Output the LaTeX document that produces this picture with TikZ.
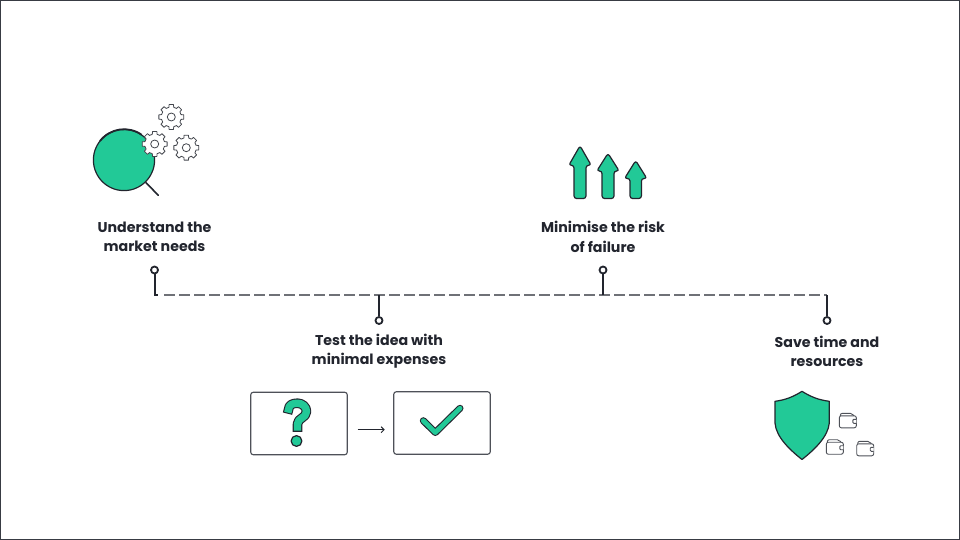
\documentclass[tikz,border=0pt]{standalone}
\usepackage{fontspec}
\setmainfont{Poppins}
\usetikzlibrary{arrows.meta}
\definecolor{ink}{HTML}{22252E}
\definecolor{mint}{HTML}{22C997}
\tikzset{
  x=1pt,y=-1pt,
  label/.style={font=\fontsize{14.2}{19.5}\selectfont\bfseries,text=ink,align=center,inner sep=0pt},
  dot/.style={circle,draw=ink,line width=1.8pt,fill=white,minimum size=7pt,inner sep=0pt},
  stem/.style={draw=ink,line width=2pt,line join=miter},
  dashline/.style={draw=ink!65,line width=1.4pt,dash pattern=on 11pt off 4pt,shorten <=9.5pt},
  outline/.style={draw=ink,fill=mint,line width=1.2pt,line join=round},
  frame/.style={draw=ink!80,line width=1.1pt,rounded corners=2.5pt,fill=white,minimum width=96.5pt,minimum height=62.5pt,inner sep=0pt},
  thin line/.style={draw=ink,line width=0.9pt},
}
\newcommand{\gearshape}[2]{%
  \begin{scope}[shift={(#1,#2)}]
  \draw[ink!85,line width=0.8pt,fill=white,line join=round]
    (-14:10) foreach \a in {0,45,...,315}{
      -- ({\a-14}:10) -- ({\a-10}:12.6) -- ({\a+10}:12.6) -- ({\a+14}:10)
      arc[start angle=\a+14,end angle=\a+31,radius=10] } -- cycle;
  \draw[ink!85,line width=0.8pt] (0,0) circle[radius=4];
  \end{scope}}
\newcommand{\walletat}[2]{%
  \begin{scope}[shift={(#1,#2)}]
  \draw[ink!80,line width=0.9pt,rounded corners=2pt,fill=white]
    (0,2.5) rectangle (17,14.5);
  \draw[ink!80,line width=0.9pt,rounded corners=2pt] (1,2.5) -- (1,0) -- (13,0) -- (14.5,2.5);
  \draw[ink!80,line width=0.9pt,rounded corners=1pt,fill=white] (17,6) -- (13.5,6) -- (13.5,10) -- (17,10);
  \end{scope}}
\newcommand{\uparrowshape}[5]{% centre x, tip y, base y of head, half shaft, bottom
  \draw[outline,rounded corners=2.6pt]
    ({#1-#4},#5) -- ({#1-#4},#3) -- ({#1-11.2},#3) -- (#1,#2) -- ({#1+11.2},#3) -- ({#1+#4},#3) -- ({#1+#4},#5) -- cycle;}
\begin{document}
\begin{tikzpicture}
\useasboundingbox (0,0) rectangle (960,540);
\fill[white] (0,0) rectangle (960,540);
\draw[ink!90,line width=1.6pt] (0.5,0.5) rectangle (959.5,539.5);

% timeline
\coordinate (j1) at (154.5,295);
\coordinate (j1b) at (158,295);
\coordinate (j2) at (379,295);
\coordinate (j3) at (603,295);
\coordinate (j4) at (827,295);
\node[dot] (d1) at (154.5,270) {};
\node[dot] (d2) at (379,320.5) {};
\node[dot] (d3) at (603,270) {};
\node[dot] (d4) at (827,320.5) {};
\draw[dashline] (j1) -- (j4);
\draw[stem] (d1) |- (j1b);
\draw[stem] (d2) -- (j2);
\draw[stem] (d3) -- (j3);
\draw[stem] (d4) -- (j4);

% labels
\node[label] (t1) at (154.5,236.8) {Understand the\\market needs};
\node[label] (t2) at (379,351.3) {Test the idea with\\minimal expenses};
\node[label] (t3) at (603,236.8) {Minimise the risk\\of failure};
\node[label] (t4) at (827,351.3) {Save time and\\resources};

% magnifier and gears
\draw[ink,line width=1.6pt,line cap=round] (146,182.7) -- (158.3,195.3);
\draw[outline] (124,160) circle[radius=30.6];
\draw[ink,line width=1.8pt] (100,141) arc[start angle=218,end angle=305,radius=30.6];
\gearshape{171.3}{117}
\gearshape{154.7}{144}
\gearshape{186.3}{147.7}

% arrows
\uparrowshape{580}{145.8}{165.3}{6}{198.5}
\uparrowshape{608}{153.3}{171}{6}{198.5}
\uparrowshape{635.7}{160.6}{178.5}{5.7}{198.5}

% boxes
\node[frame] (b1) at (299,423.5) {};
\node[frame] (b2) at (442,423) {};
\coordinate (a1) at (347.5,429.7);
\coordinate (a2) at (393.7,429.7);
\draw[thin line,-{Straight Barb[length=3pt,width=6pt]},shorten <=10pt,shorten >=9pt] (a1) -- (a2);

% question mark
\draw[ink,line width=9.6pt,line cap=rect,line join=round]
  (288.7,409) .. controls (288.7,405) and (292.5,403.2) .. (297.5,403.2)
  .. controls (302.5,403.2) and (306.5,407) .. (306.5,411.5)
  .. controls (306.5,418) and (297.5,418) .. (297.5,424) -- (297.5,427);
\draw[mint,line width=7.4pt,line cap=rect,line join=round]
  (288.7,409) .. controls (288.7,405) and (292.5,403.2) .. (297.5,403.2)
  .. controls (302.5,403.2) and (306.5,407) .. (306.5,411.5)
  .. controls (306.5,418) and (297.5,418) .. (297.5,424) -- (297.5,427);
\draw[outline] (296.5,441) circle[radius=5.4];

% check
\draw[ink,line width=7pt,line cap=round,line join=round] (423.3,420.7) -- (435.3,432.5) -- (460,408.3);
\draw[mint,line width=4.8pt,line cap=round,line join=round] (423.3,420.7) -- (435.3,432.5) -- (460,408.3);

% shield
\draw[outline]
  (802,391.3) .. controls (793,397) and (785,400) .. (775,401.3)
  -- (775,423) .. controls (776,437) and (790,450) .. (802,459.5)
  .. controls (814,450) and (828,437) .. (829.3,423)
  -- (829.3,401.3) .. controls (819,400) and (811,397) .. (802,391.3) -- cycle;
\walletat{839.3}{413.3}
\walletat{826.3}{439.7}
\walletat{856.7}{441.3}
\end{tikzpicture}
\end{document}
